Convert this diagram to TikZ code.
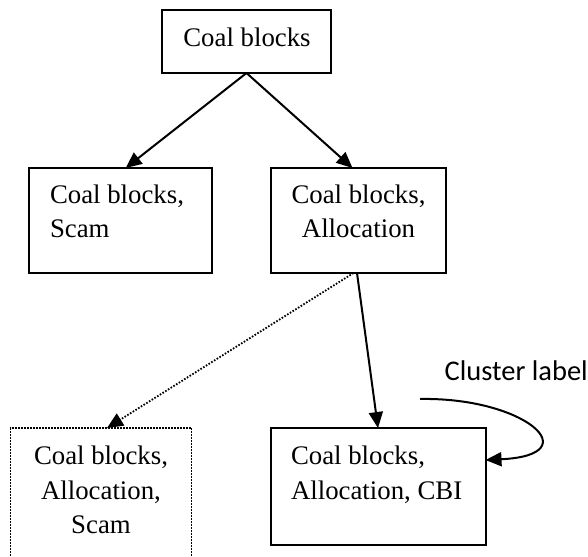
\documentclass[tikz,border=0pt]{standalone}
\usepackage{fontspec}
\setmainfont{Liberation Serif}
\newfontfamily\clusterfont{Carlito}
\usetikzlibrary{arrows.meta,calc}
\newcommand\txtlines[2]{\begin{tabular}[t]{@{}#1@{}}#2\end{tabular}}
\begin{document}
\begin{tikzpicture}[x=1pt,y=-1pt,
  box/.style={draw, line width=2pt, inner sep=0pt, outer sep=0pt},
  dotbox/.style={box, line width=1.8pt, dash pattern=on 1.6pt off 1.4pt},
  txt/.style={inner sep=0pt, outer sep=0pt, font=\fontsize{26.8}{34.5}\selectfont},
  arr/.style={line width=2pt, -{Triangle[length=16pt,width=14pt]}},
  dotarr/.style={arr, line width=1.8pt, dash pattern=on 1.6pt off 1.6pt}]
\fill[white] (0,0) rectangle (588,556);
\clip (0,0) rectangle (588,556);

% boxes
\node[box, minimum width=169pt, minimum height=63pt] (top) at (246.5,41.5) {};
\node[box, minimum width=182.6pt, minimum height=105pt] (scam) at (120.7,220.5) {};
\node[box, minimum width=175pt, minimum height=105pt] (alloc) at (358.5,220.5) {};
\node[dotbox, minimum width=181pt, minimum height=172pt] (dot) at (101,514) {};
\node[box, minimum width=215pt, minimum height=116.7pt] (cbi) at (378,486.4) {};

% texts
\node[txt, anchor=base] (topt) at (247,46.7) {Coal blocks};
\node[txt, anchor=base west] (scamt) at (50,203.3) {\txtlines{l}{Coal blocks,\\Scam}};
\node[txt, anchor=base] (alloct) at (358.5,203.3) {\txtlines{c}{Coal blocks,\\Allocation}};
\node[txt, anchor=base] (dott) at (101,464.7) {\txtlines{c}{Coal blocks,\\Allocation,\\Scam}};
\node[txt, anchor=base west] (cbit) at (291,464.7) {\txtlines{l}{Coal blocks,\\Allocation, CBI}};
\node[inner sep=0pt, anchor=base east, font=\clusterfont\fontsize{28.5}{34}\selectfont] (cl) at (588,380) {Cluster label};

% connectors
\draw[arr] (top.south) -- ([xshift=5pt]scam.north);
\draw[arr] (top.south) -- ([xshift=-6pt]alloc.north);
\draw[arr] ([xshift=-1.5pt]alloc.south) -- (cbi.north);
\draw[dotarr] ([xshift=-5pt]alloc.south) -- ([xshift=6pt]dot.north);
\coordinate (cs) at (420,399);
\draw[arr] (cs) .. controls (525,397) and (590,455) .. ($(cbi.east)+(0,-26.4)$);
\end{tikzpicture}
\end{document}
